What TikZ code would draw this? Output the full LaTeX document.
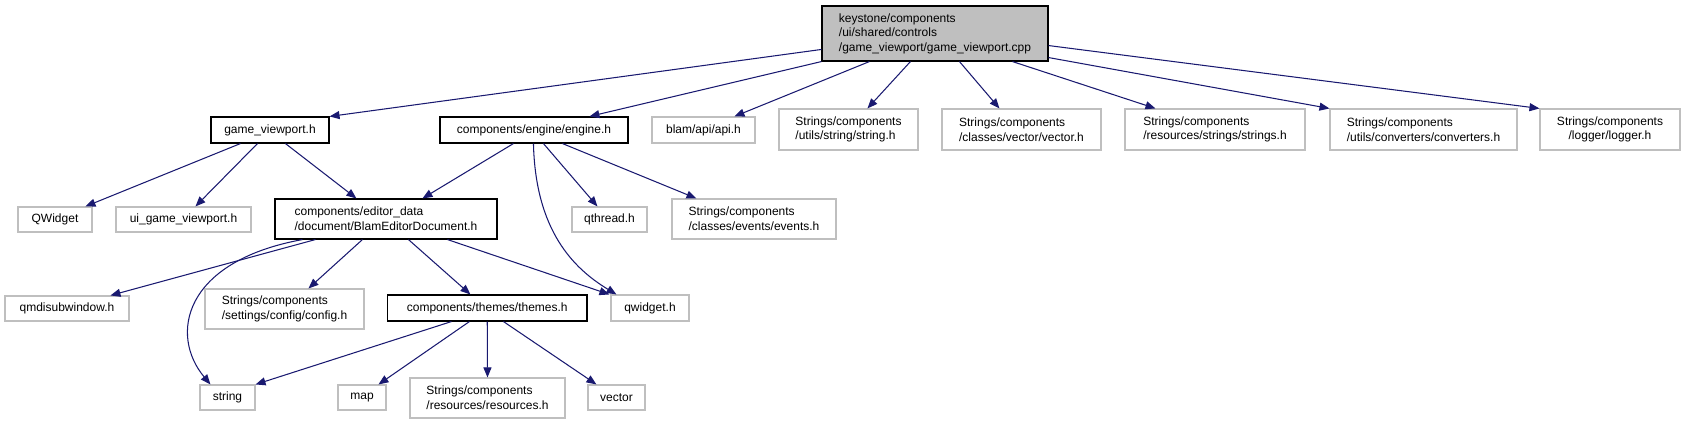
\documentclass[tikz,border=0pt]{standalone}
\usepackage{fontspec}
\setmainfont{Liberation Sans}
\usetikzlibrary{arrows.meta}
\definecolor{edgec}{RGB}{25,25,112}
\definecolor{grayb}{RGB}{191,191,191}
\begin{document}
\begin{tikzpicture}[x=1pt,y=-1pt,
  font=\fontsize{12}{14.6}\selectfont,
  box/.style={line width=1.1pt, inner sep=0pt, align=left},
  docbox/.style={box, draw=black},
  undocbox/.style={box, draw=grayb},
  dep/.style={draw=edgec, line width=1.05pt, -{Triangle[length=10pt,width=8pt]}}]
\useasboundingbox (0,0) rectangle (1685,424);
% row 0
\node[docbox, fill=grayb, minimum width=226pt, minimum height=55pt] (main) at (935,33.5)
  {keystone/components\\/ui/shared/controls\\/game\_viewport/game\_viewport.cpp};
% row 1
\node[docbox, minimum width=118pt, minimum height=26pt] (gv) at (270,130) {game\_viewport.h};
\node[docbox, minimum width=188pt, minimum height=26pt] (eng) at (534,130) {components/engine/engine.h};
\node[undocbox, minimum width=103pt, minimum height=26pt] (api) at (703.5,130) {blam/api/api.h};
\node[undocbox, minimum width=139pt, minimum height=41pt] (strh) at (848.5,129.5) {Strings/components\\/utils/string/string.h};
\node[undocbox, minimum width=159pt, minimum height=41pt] (vech) at (1021.5,129.5) {Strings/components\\/classes/vector/vector.h};
\node[undocbox, minimum width=180pt, minimum height=41pt] (strsh) at (1215,129.5) {Strings/components\\/resources/strings/strings.h};
\node[undocbox, minimum width=187pt, minimum height=41pt] (conv) at (1423.5,129.5) {Strings/components\\/utils/converters/converters.h};
\node[undocbox, align=center, minimum width=140pt, minimum height=41pt] (logg) at (1610,129.5) {Strings/components\\/logger/logger.h};
% row 2
\node[undocbox, minimum width=74pt, minimum height=25pt] (qw) at (55,219.5) {QWidget};
\node[undocbox, minimum width=135pt, minimum height=25pt] (uigv) at (183.5,219.5) {ui\_game\_viewport.h};
\node[docbox, minimum width=222pt, minimum height=40pt] (bed) at (386,219) {components/editor\_data\\/document/BlamEditorDocument.h};
\node[undocbox, minimum width=75pt, minimum height=25pt] (qth) at (609.5,219.5) {qthread.h};
\node[undocbox, minimum width=164pt, minimum height=40pt] (evt) at (754,219) {Strings/components\\/classes/events/events.h};
% row 3
\node[undocbox, minimum width=124pt, minimum height=25pt] (qmdi) at (67,308.5) {qmdisubwindow.h};
\node[undocbox, minimum width=159pt, minimum height=40pt] (cfg) at (284.5,309) {Strings/components\\/settings/config/config.h};
\node[docbox, minimum width=199.5pt, minimum height=26pt] (thm) at (487.25,308) {components/themes/themes.h};
\node[undocbox, minimum width=78pt, minimum height=26pt] (qwh) at (650,308) {qwidget.h};
% row 4
\node[undocbox, minimum width=55pt, minimum height=25pt] (str) at (227.5,397.5) {string};
\node[undocbox, minimum width=48pt, minimum height=25pt] (map) at (362,397.5) {map};
\node[undocbox, minimum width=155pt, minimum height=40pt] (res) at (487.5,398) {Strings/components\\/resources/resources.h};
\node[undocbox, minimum width=57pt, minimum height=25pt] (vec) at (616.5,397.5) {vector};
% edges from main
\draw[dep] ([yshift=-44pt]main.north west) -- (gv.north east);
\draw[dep] (main.south west) -- ([xshift=150pt]eng.north west);
\draw[dep] ([xshift=48pt]main.south west) -- ([xshift=83pt]api.north west);
\draw[dep] ([xshift=89pt]main.south west) -- ([xshift=89pt]strh.north west);
\draw[dep] ([xshift=138pt]main.south west) -- ([xshift=58pt]vech.north west);
\draw[dep] ([xshift=191pt]main.south west) -- ([xshift=31pt]strsh.north west);
\draw[dep] ([yshift=4pt]main.south east) -- (conv.north west);
\draw[dep] ([yshift=16pt]main.south east) -- (logg.north west);
% edges from game_viewport.h
\draw[dep] ([xshift=30pt]gv.south west) -- ([xshift=68pt]qw.north west);
\draw[dep] ([xshift=47pt]gv.south west) -- ([xshift=80pt]uigv.north west);
\draw[dep] ([xshift=75pt]gv.south west) -- ([xshift=82pt]bed.north west);
% edges from engine.h
\draw[dep] ([xshift=74pt]eng.south west) -- ([xshift=148pt]bed.north west);
\draw[dep] ([xshift=94pt]eng.south west) .. controls +(2,87) and +(-43,-26) .. ([xshift=6pt]qwh.north west);
\draw[dep] ([xshift=104pt]eng.south west) -- ([xshift=26pt]qth.north west);
\draw[dep] ([xshift=123pt]eng.south west) -- ([xshift=25pt]evt.north west);
% edges from BlamEditorDocument.h
\draw[dep] ([xshift=41pt]bed.south west) -- ([xshift=106pt]qmdi.north west);
\draw[dep] ([xshift=28pt]bed.south west) .. controls +(-120,22) and +(-41,-49) .. ([xshift=11pt]str.north west);
\draw[dep] ([xshift=88pt]bed.south west) -- ([xshift=104pt]cfg.north west);
\draw[dep] ([xshift=134pt]bed.south west) -- ([xshift=83.5pt]thm.north west);
\draw[dep] ([xshift=173pt]bed.south west) -- ([xshift=-1pt]qwh.north west);
% edges from themes.h
\draw[dep] ([xshift=64.5pt]thm.south west) -- (str.north east);
\draw[dep] ([xshift=82.5pt]thm.south west) -- ([xshift=41pt]map.north west);
\draw[dep] (thm.south) -- (res.north);
\draw[dep] ([xshift=116.5pt]thm.south west) -- ([xshift=9pt]vec.north west);
\end{tikzpicture}
\end{document}
